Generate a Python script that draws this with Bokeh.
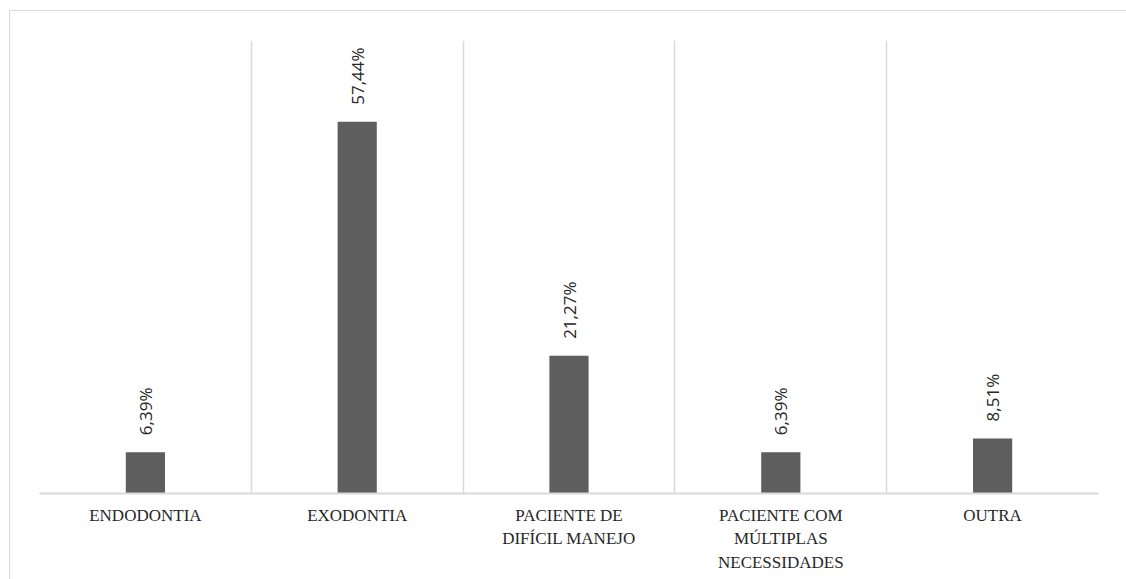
from bokeh.plotting import figure
from bokeh.models import ColumnDataSource, FixedTicker, Range1d
from bokeh.embed import file_html
from bokeh.resources import INLINE
from bokeh.core.properties import value
import math

categories = ["ENDODONTIA", "EXODONTIA", "PACIENTE DE\nDIFÍCIL MANEJO",
              "PACIENTE COM\nMÚLTIPLAS\nNECESSIDADES", "OUTRA"]
values = [6.39, 57.44, 21.27, 6.39, 8.51]
labels = ["6,39%", "57,44%", "21,27%", "6,39%", "8,51%"]

src = ColumnDataSource(dict(cat=categories, val=values, lab=labels))

p = figure(x_range=categories, y_range=Range1d(0, 70), width=1117, height=569,
           output_backend="svg", toolbar_location=None,
           min_border_left=29, min_border_top=29, min_border_right=29, min_border_bottom=87,
           margin=(10, 0, 0, 9),
           styles={"border-top": "1px solid #d9d9d9", "border-left": "1px solid #d9d9d9"})
p.outline_line_color = None
p.background_fill_color = "white"
p.border_fill_color = "white"

p.vbar(x="cat", top="val", width=0.185, source=src, fill_color="#5e5e5e", line_color=None)
p.text(x="cat", y="val", text="lab", source=src, angle=math.pi / 2,
       text_align="left", text_baseline="middle", y_offset=-17,
       text_font=value("Open Sans"), text_font_size="17px", text_color="#262626")

p.yaxis.visible = False
p.ygrid.visible = False
p.xgrid.ticker = FixedTicker(ticks=[0, 1, 2, 3, 4, 5])
p.xgrid.grid_line_color = "#d9d9d9"
p.xgrid.grid_line_width = 1.5

ax = p.xaxis[0]
ax.axis_line_color = "#d9d9d9"
ax.axis_line_width = 2
ax.major_tick_line_color = None
ax.minor_tick_line_color = None
ax.major_label_text_font = "Liberation Serif"
ax.major_label_text_font_size = "17px"
ax.major_label_text_color = "#262626"
ax.major_label_text_line_height = 1.25
ax.major_label_standoff = 6

open("out.html", "w").write(file_html(p, INLINE))
